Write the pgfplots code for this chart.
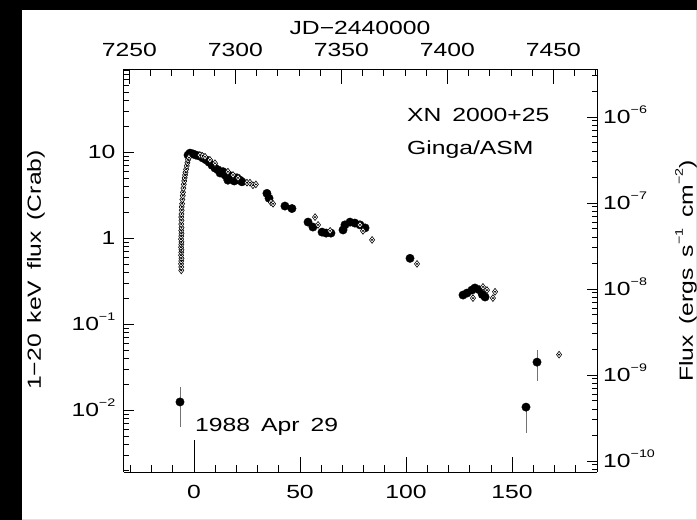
\documentclass[border=0pt]{standalone}
\usepackage{pgfplots}
\pgfplotsset{compat=1.18}
\usepackage{pgfplotstable}
\usepackage{fontspec}
\setmainfont[FakeStretch=1.3,WordSpace=1.6]{Liberation Sans}
\newcommand{\ex}[1]{\raisebox{10bp}{\fontsize{11bp}{11bp}\selectfont #1}}
\newcommand{\bigf}{\fontsize{19bp}{22bp}\selectfont}
\definecolor{edgegray}{RGB}{225,225,225}

% filled circles: day, flux (Crab)
\pgfplotstableread{
d f
-2.8 9.2
-1.9 9.7
-0.5 9.5
0.9 9.2
2.4 9.0
4.2 8.5
5.7 8.1
7.1 7.6
8.5 7.0
9.9 6.5
11.3 6.2
12.3 5.7
13.7 5.9
14.6 5.4
15.6 5.1
16.0 4.7
17.0 5.3
18.4 5.1
19.0 4.6
20.3 5.0
21.7 4.7
22.6 4.5
34.4 3.3
35.4 2.9
42.9 2.35
46.2 2.2
53.8 1.53
56.1 1.34
60.4 1.17
62.3 1.14
64.6 1.14
70.3 1.24
71.2 1.42
73.6 1.53
75.9 1.49
78.3 1.42
80.7 1.31
101.9 0.58
126.9 0.217
128.8 0.229
131.1 0.248
132.5 0.262
134.5 0.25
136.0 0.22
137.3 0.206
}\fc

% open diamonds: day, flux (Crab)
\pgfplotstableread{
d f
-6.0 0.42
-6.0 0.46
-6.1 0.50
-6.0 0.54
-5.9 0.58
-6.1 0.63
-6.0 0.68
-5.9 0.73
-6.1 0.78
-6.0 0.84
-5.9 0.90
-6.1 0.97
-6.0 1.05
-5.9 1.13
-6.0 1.22
-5.9 1.32
-6.0 1.45
-5.9 1.6
-6.0 1.75
-5.9 1.9
-5.8 2.1
-5.8 2.3
-5.6 2.5
-5.5 2.8
-5.3 3.1
-5.2 3.4
-5.0 3.8
-4.8 4.2
-4.6 4.6
-4.4 5.0
-4.2 5.4
-4.0 5.8
-3.7 6.3
-3.4 6.9
-3.1 7.5
-2.8 8.1
-2.4 8.6
2.8 9.2
4.0 9.0
5.2 8.8
7.5 8.1
9.9 7.4
16.0 5.9
18.4 5.4
20.8 5.0
25.0 4.4
26.4 4.4
27.8 4.1
29.2 4.2
36.3 2.6
37.3 2.5
57.1 1.75
58.5 1.42
64.2 1.21
78.3 1.42
79.7 1.21
84.0 0.95
105.2 0.50
131.6 0.20
136.3 0.27
138.2 0.248
141.0 0.20
142.0 0.237
172.2 0.044
}\dm

% points with error bars: day, flux, plus, minus
\pgfplotstableread{
d f ep em
-6.6 0.0124 0.0061 0.0061
156.6 0.0108 0 0.0054
161.8 0.036 0.0145 0.0145
}\eb

\begin{document}
\begin{tikzpicture}[x=1bp,y=1bp,font=\bigf]
\fill[white] (0,0) rectangle (697,520);
\fill[black] (0,0) rectangle (22,520);
\fill[black] (0,510) rectangle (697,520);
\fill[edgegray] (695.8,0) rectangle (697,510);
\fill[edgegray] (22,0) rectangle (697,1.2);

\begin{axis}[
  at={(123.5bp,48bp)}, anchor=south west, scale only axis,
  width=473.5bp, height=403bp,
  axis x line*=bottom, axis y line*=left,
  axis line style={black, line width=0.9bp},
  xmin=-33.25, xmax=190.1,
  ymode=log, ymin=0.001901, ymax=92.26,
  tick align=inside,
  xtick={0,50,100,150}, xticklabels={0,50,100,150},
  minor xtick={-30,-20,-10,10,20,30,40,60,70,80,90,110,120,130,140,160,170,180,190},
  ytick={0.01,0.1,1,10}, yticklabels={10\ex{−2},10\ex{−1},1,10},
  minor ytick={0.002,0.003,0.004,0.005,0.006,0.007,0.008,0.009,
    0.02,0.03,0.04,0.05,0.06,0.07,0.08,0.09,
    0.2,0.3,0.4,0.5,0.6,0.7,0.8,0.9,
    2,3,4,5,6,7,8,9,20,30,40,50,60,70,80,90},
  xtick style={black, line width=0.6bp, /pgfplots/major tick length=15bp, /pgfplots/minor tick length=7bp},
  ytick style={black, line width=0.6bp, /pgfplots/major tick length=10bp, /pgfplots/minor tick length=5bp},
  tick label style={font=\bigf},
  xticklabel style={inner sep=0pt, anchor=north, yshift=-13bp},
  yticklabel style={inner sep=0pt, anchor=base east, xshift=-8bp, yshift=-7bp},
]
\addplot[only marks, mark=*, mark size=4.2bp, black] table[x=d,y=f]{\fc};
\addplot[only marks, mark=diamond*, mark size=3.4bp, mark options={fill=white, draw=black, line width=0.6bp}] table[x=d,y=f]{\dm};
\addplot[only marks, mark=*, mark size=0.7bp, black] table[x=d,y=f]{\dm};
\addplot[only marks, mark=*, mark size=4.2bp, black,
  error bars/.cd, y dir=both, y explicit,
  error mark=none, error bar style={black!55, line width=0.9bp}]
  table[x=d,y=f,y error plus=ep,y error minus=em]{\eb};
\end{axis}

\begin{axis}[
  at={(123.5bp,48bp)}, anchor=south west, scale only axis,
  width=473.5bp, height=403bp,
  axis x line*=top, axis y line*=right,
  axis line style={black, line width=0.9bp},
  xmin=7247.25, xmax=7470.6,
  ymode=log, ymin=7.41e-11, ymax=3.597e-6,
  tick align=inside,
  xtick={7250,7300,7350,7400,7450}, xticklabels={7250,7300,7350,7400,7450},
  minor xtick={7260,7270,7280,7290,7310,7320,7330,7340,7360,7370,7380,7390,7410,7420,7430,7440,7460,7470},
  ytick={1e-10,1e-9,1e-8,1e-7,1e-6},
  yticklabels={10\ex{−10},10\ex{−9},10\ex{−8},10\ex{−7},10\ex{−6}},
  minor ytick={8e-11,9e-11,
    2e-10,3e-10,4e-10,5e-10,6e-10,7e-10,8e-10,9e-10,
    2e-9,3e-9,4e-9,5e-9,6e-9,7e-9,8e-9,9e-9,
    2e-8,3e-8,4e-8,5e-8,6e-8,7e-8,8e-8,9e-8,
    2e-7,3e-7,4e-7,5e-7,6e-7,7e-7,8e-7,9e-7,
    2e-6,3e-6},
  xtick style={black, line width=0.6bp, /pgfplots/major tick length=15bp, /pgfplots/minor tick length=7bp},
  ytick style={black, line width=0.6bp, /pgfplots/major tick length=10bp, /pgfplots/minor tick length=5bp},
  tick label style={font=\bigf},
  xticklabel style={inner sep=0pt, anchor=south, yshift=12bp},
  yticklabel style={inner sep=0pt, anchor=base west, xshift=6bp, yshift=-7bp},
]
\end{axis}

\draw[black, line width=0.7bp] (194,48) -- (194,80);
\node[anchor=base west, inner sep=0pt] at (195,88) {1988 Apr 29};
\node[anchor=base west, inner sep=0pt] at (407,398) {XN 2000+25};
\node[anchor=base west, inner sep=0pt] at (407,365) {Ginga/ASM};
\node[anchor=base, inner sep=0pt] at (360,485) {JD−2440000};
\node[rotate=90, inner sep=0pt] at (36,250) {1−20 keV flux (Crab)};
\node[rotate=90, inner sep=0pt] at (686,249) {Flux (ergs s\ex{−1} cm\ex{−2})};
\pgfresetboundingbox
\path[use as bounding box] (0,0) rectangle (697,520);
\end{tikzpicture}
\end{document}
